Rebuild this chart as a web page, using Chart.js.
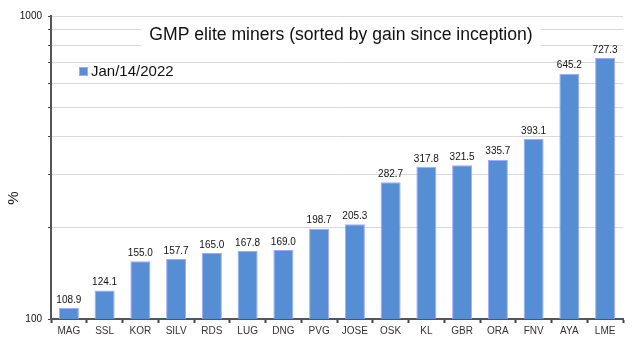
<!DOCTYPE html>
<html>
<head>
<meta charset="utf-8">
<script src="https://cdn.jsdelivr.net/npm/chart.js@4"></script>
<style>
  html, body { margin: 0; padding: 0; background: #fff; }
  #wrap { width: 640px; height: 352px; }
</style>
</head>
<body>
<div id="wrap"><canvas id="myChart" width="640" height="352"></canvas></div>
<script>
const tickers = ['MAG', 'SSL', 'KOR', 'SILV', 'RDS', 'LUG', 'DNG', 'PVG', 'JOSE', 'OSK', 'KL', 'GBR', 'ORA', 'FNV', 'AYA', 'LME'];
const gains = [108.9, 124.1, 155.0, 157.7, 165.0, 167.8, 169.0, 198.7, 205.3, 282.7, 317.8, 321.5, 335.7, 393.1, 645.2, 727.3];
const gridValues = [100, 200, 300, 400, 500, 600, 700, 800, 900, 1000];
const shownTicks = [100, 1000];
const seriesName = 'Jan/14/2022';
const chartTitle = 'GMP elite miners (sorted by gain since inception)';

const fontName = '"Liberation Sans", Arial, sans-serif';
const barFill = '#558ed5';
const barEdge = '#a5a5ff';

// value labels above each bar
const valueLabels = {
    id: 'valueLabels',
    afterDatasetsDraw(chart) {
        const ctx = chart.ctx;
        const meta = chart.getDatasetMeta(0);
        ctx.save();
        ctx.font = '10px ' + fontName;
        ctx.fillStyle = '#111';
        ctx.textAlign = 'center';
        ctx.textBaseline = 'bottom';
        meta.data.forEach((bar, i) => {
            ctx.fillText(gains[i].toFixed(1), bar.x, bar.y - 3);
        });
        ctx.restore();
    }
};

// title, legend and axis name sit on top of the plot
const overlay = {
    id: 'overlay',
    afterDraw(chart) {
        const ctx = chart.ctx;
        ctx.save();
        ctx.font = '17.6px ' + fontName;
        const w = ctx.measureText(chartTitle).width;
        const cx = 341, cy = 35;
        ctx.fillStyle = '#fff';
        ctx.fillRect(cx - w / 2 - 8, cy - 12, w + 16, 24);
        ctx.fillStyle = '#111';
        ctx.textAlign = 'center';
        ctx.textBaseline = 'middle';
        ctx.fillText(chartTitle, cx, cy);

        ctx.fillStyle = barFill;
        ctx.fillRect(80, 68, 7, 7);
        ctx.strokeStyle = barEdge;
        ctx.lineWidth = 1;
        ctx.strokeRect(79.5, 67.5, 8, 8);
        ctx.font = '15px ' + fontName;
        ctx.fillStyle = '#111';
        ctx.textAlign = 'left';
        ctx.fillText(seriesName, 91, 72);

        ctx.translate(14, 198);
        ctx.rotate(-Math.PI / 2);
        ctx.textAlign = 'center';
        ctx.font = '15px ' + fontName;
        ctx.fillText('%', 0, 0);
        ctx.restore();
    }
};

var ctx = document.getElementById('myChart').getContext('2d');

var myChart = new Chart(ctx, {
    type: 'bar',
    data: {
        labels: tickers,
        datasets: [{
            label: seriesName,
            data: gains,
            backgroundColor: barFill,
            borderColor: barEdge,
            borderWidth: 1,
            barPercentage: 0.8,
            categoryPercentage: 0.7
        }]
    },
    options: {
        responsive: false,
        animation: false,
        layout: { padding: { top: 16, right: 17, left: 0, bottom: 0 } },
        plugins: {
            legend: { display: false },
            title: { display: false },
            tooltip: { enabled: false }
        },
        scales: {
            x: {
                offset: true,
                grid: {
                    offset: true,
                    drawOnChartArea: false,
                    drawTicks: true,
                    tickLength: 4,
                    tickColor: '#444',
                    tickWidth: 2
                },
                border: { color: '#555', width: 2 },
                ticks: {
                    color: '#333',
                    font: { family: fontName, size: 10 },
                    padding: 2,
                    autoSkip: false,
                    maxRotation: 0
                },
                afterFit(scale) { scale.height = 33; }
            },
            y: {
                type: 'logarithmic',
                min: 100,
                max: 1000,
                afterBuildTicks(scale) {
                    scale.ticks = gridValues.map(v => ({ value: v, major: false }));
                },
                grid: {
                    color: '#d9d9d9',
                    tickColor: '#444',
                    tickLength: 3,
                    lineWidth: 1
                },
                border: { color: '#555', width: 2 },
                ticks: {
                    autoSkip: false,
                    color: '#111',
                    font: { family: fontName, size: 10 },
                    padding: 6,
                    callback: (v) => shownTicks.includes(v) ? String(v) : ''
                },
                afterFit(scale) { scale.width = 51; }
            }
        }
    },
    plugins: [valueLabels, overlay]
});
</script>
</body>
</html>
